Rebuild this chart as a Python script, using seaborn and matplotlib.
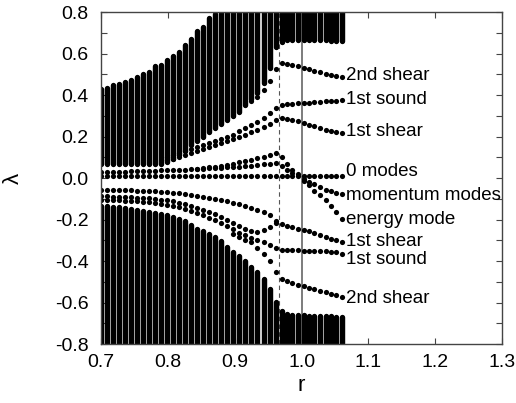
import numpy as np
import pandas as pd
import matplotlib
matplotlib.use("Agg")
import matplotlib.pyplot as plt
from matplotlib.ticker import MultipleLocator
import seaborn as sns

# ---------------------------------------------------------------------
# data (r = parameter, lambda = eigenvalue)
# ---------------------------------------------------------------------
R_LEFT = [0.700, 0.709, 0.718, 0.727, 0.736, 0.745, 0.754, 0.763, 0.772, 0.781,
          0.790, 0.799, 0.808, 0.817, 0.826, 0.835, 0.844, 0.853, 0.862, 0.871,
          0.880, 0.889, 0.898, 0.907, 0.916, 0.925, 0.934, 0.943, 0.952, 0.961]
R_RIGHT = [0.970, 0.978, 0.986, 0.994, 1.003, 1.011, 1.019, 1.027, 1.036, 1.044,
           1.052, 1.060]

# continuum bands (edges per column)
UPPER_TOP_L = [0.43, 0.435, 0.45, 0.455, 0.465, 0.475, 0.485, 0.50, 0.51, 0.54,
               0.545, 0.57, 0.59, 0.61, 0.64, 0.67, 0.71, 0.73, 0.77, 0.79,
               0.82, 0.82, 0.82, 0.82, 0.82, 0.82, 0.82, 0.82, 0.82, 0.82]
UPPER_BOT_L = [0.07, 0.07, 0.07, 0.07, 0.07, 0.07, 0.07, 0.07, 0.07, 0.07,
               0.07, 0.08, 0.09, 0.11, 0.13, 0.16, 0.18, 0.20, 0.22, 0.24,
               0.26, 0.28, 0.30, 0.32, 0.35, 0.38, 0.41, 0.46, 0.53, 0.63]
UPPER_TOP_R = [0.82] * 12
UPPER_BOT_R = [0.655, 0.665, 0.665, 0.665, 0.665, 0.665, 0.665, 0.665, 0.665, 0.66,
               0.66, 0.66]

LOWER_TOP_L = [-0.135, -0.135, -0.137, -0.14, -0.145, -0.15, -0.155, -0.16, -0.165, -0.17,
               -0.175, -0.18, -0.185, -0.195, -0.205, -0.225, -0.245, -0.255, -0.27, -0.285,
               -0.305, -0.33, -0.355, -0.375, -0.40, -0.43, -0.45, -0.485, -0.535, -0.595]
LOWER_TOP_R = [-0.64, -0.655, -0.66, -0.66, -0.66, -0.662, -0.662, -0.665, -0.665, -0.665,
               -0.668, -0.668]
BAND_FLOOR = -0.82

# discrete modes, upper half
ZERO_ROW = [0.01] * 42
ZERO_B_L = [0.028, 0.028, 0.029, 0.03, 0.031, 0.032, 0.033, 0.034, 0.035, 0.036,
            0.037, 0.038, 0.039, 0.04, 0.041, 0.042, 0.044, 0.045, 0.047, 0.048,
            0.05, 0.052, 0.054, 0.056, 0.058, 0.06, 0.063, 0.066, 0.07, 0.072]
ZERO_B_R = [0.06, 0.04, 0.025]
ZERO_C_L = [0.045, 0.048, 0.052, 0.056, 0.06, 0.065, 0.07, 0.076, 0.082, 0.088,
            0.095, 0.103, 0.11, 0.12]          # columns 16..29
ZERO_C_R = [0.10, 0.07, 0.04, 0.02]

SOUND1_POS_L = [0.10, 0.11, 0.12, 0.13, 0.14, 0.15, 0.16, 0.17, 0.18, 0.19,
                0.20, 0.21, 0.225, 0.24, 0.255, 0.27, 0.29, 0.312, 0.336]   # columns 11..29
SHEAR1_POS_L = [0.085, 0.09, 0.10, 0.11, 0.12, 0.13, 0.14, 0.15, 0.16, 0.17,
                0.18, 0.19, 0.20, 0.21, 0.22, 0.23, 0.245, 0.26, 0.28]
SHEAR2_POS_L = [0.37, 0.39, 0.425, 0.468, 0.526]                            # columns 25..29

SHEAR2_POS_R = [0.553, 0.548, 0.543, 0.538, 0.532, 0.525, 0.518, 0.51, 0.503, 0.497,
                0.49, 0.485]
SOUND1_POS_R = [0.352, 0.356, 0.358, 0.36, 0.362, 0.364, 0.366, 0.368, 0.37, 0.372,
                0.374, 0.376]
SHEAR1_POS_R = [0.29, 0.285, 0.28, 0.275, 0.268, 0.258, 0.25, 0.24, 0.233, 0.227,
                0.222, 0.218]

# discrete modes, lower half
N1_L = [-0.055, -0.055, -0.056, -0.057, -0.058, -0.059, -0.06, -0.061, -0.062, -0.064,
        -0.066, -0.068, -0.071, -0.074, -0.078, -0.082, -0.086, -0.09, -0.095, -0.10,
        -0.105, -0.11, -0.118, -0.126, -0.134, -0.143, -0.153, -0.165, -0.18, -0.205]
N2_L = [-0.088, -0.088, -0.089, -0.09, -0.091, -0.092, -0.094, -0.096, -0.098, -0.10,
        -0.103, -0.107, -0.112, -0.118, -0.125, -0.133, -0.142, -0.152, -0.163, -0.175,
        -0.188, -0.20, -0.215, -0.23, -0.245, -0.255, -0.258, -0.25, -0.235, -0.215]
N3_L = [-0.105, -0.105, -0.106, -0.107, -0.108, -0.11, -0.112, -0.114, -0.117, -0.12,
        -0.124, -0.128, -0.133, -0.14, -0.148, -0.157, -0.167, -0.178, -0.19, -0.203,
        -0.217, -0.232, -0.247, -0.262, -0.275, -0.287, -0.297, -0.307, -0.32, -0.337]
N4_L = [-0.27, -0.285, -0.297, -0.31, -0.335, -0.365, -0.40, -0.453]         # columns 22..29

SHEAR1_NEG_R = [-0.222, -0.23, -0.237, -0.243, -0.248, -0.255, -0.263, -0.272, -0.282, -0.292,
                -0.30, -0.308]
SOUND1_NEG_R = [-0.345, -0.347, -0.348, -0.348, -0.349, -0.35, -0.35, -0.351, -0.352, -0.355,
                -0.358, -0.364]
SHEAR2_NEG_R = [-0.486, -0.497, -0.506, -0.513, -0.519, -0.527, -0.535, -0.543, -0.551, -0.558,
                -0.565, -0.573]

R_MODES = [1.003, 1.011, 1.019, 1.027, 1.036, 1.044, 1.052, 1.060]
MOMENTUM = [-0.005, -0.018, -0.03, -0.043, -0.055, -0.064, -0.07, -0.075]
ENERGY = [-0.012, -0.032, -0.06, -0.08, -0.105, -0.135, -0.165, -0.198]

LABELS = ["2nd shear", "1st sound", "1st shear", "0 modes", "momentum modes",
          "energy mode", "1st shear", "1st sound", "2nd shear"]
LABEL_Y = [0.495, 0.379, 0.225, 0.031, -0.085, -0.20, -0.307, -0.394, -0.578]

R_DASHED = 0.966
R_SOLID = 1.0


def band_frame():
    rows = []
    cols = R_LEFT + R_RIGHT
    tops = UPPER_TOP_L + UPPER_TOP_R
    bots = UPPER_BOT_L + UPPER_BOT_R
    ltops = LOWER_TOP_L + LOWER_TOP_R
    for i, r in enumerate(cols):
        rows += [(r, bots[i], f"u{i}"), (r, tops[i], f"u{i}"),
                 (r, ltops[i], f"l{i}"), (r, BAND_FLOOR, f"l{i}")]
    return pd.DataFrame(rows, columns=["r", "lam", "col"])


def mode_frame():
    rr = R_LEFT + R_RIGHT
    pieces = [
        (rr, ZERO_ROW),
        (R_LEFT + R_RIGHT[:3], ZERO_B_L + ZERO_B_R),
        (R_LEFT[16:] + R_RIGHT[:4], ZERO_C_L + ZERO_C_R),
        (R_LEFT[11:] + R_RIGHT, SOUND1_POS_L + SOUND1_POS_R),
        (R_LEFT[11:] + R_RIGHT, SHEAR1_POS_L + SHEAR1_POS_R),
        (R_LEFT[25:] + R_RIGHT, SHEAR2_POS_L + SHEAR2_POS_R),
        (R_LEFT + R_RIGHT, N1_L + SHEAR1_NEG_R),
        (R_LEFT, N2_L),
        (R_LEFT + R_RIGHT, N3_L + SOUND1_NEG_R),
        (R_LEFT[22:] + R_RIGHT, N4_L + SHEAR2_NEG_R),
        (R_MODES, MOMENTUM),
        (R_MODES, ENERGY),
    ]
    frames = [pd.DataFrame({"r": r, "lam": lam}) for r, lam in pieces]
    return pd.concat(frames, ignore_index=True)


sns.set_theme(style="ticks")
plt.rcParams["font.family"] = ["Liberation Sans", "DejaVu Sans"]
plt.rcParams["text.color"] = "black"
plt.rcParams["axes.labelcolor"] = "black"
plt.rcParams["xtick.labelcolor"] = "black"
plt.rcParams["ytick.labelcolor"] = "black"

fig = plt.figure(figsize=(5.16, 4.03), dpi=100)
ax = fig.add_axes([0.196, 0.146, 0.777, 0.824])

# continuum: thick vertical strokes, one per r column
sns.lineplot(data=band_frame(), x="r", y="lam", units="col", estimator=None,
             sort=False, color="black", lw=3.9, solid_capstyle="round",
             legend=False, ax=ax)

# discrete eigenvalues
sns.scatterplot(data=mode_frame(), x="r", y="lam", color="black", s=14,
                linewidth=0, legend=False, ax=ax)

ax.axvline(R_DASHED, color="#555555", lw=0.8, ls=(0, (4, 3)), zorder=0.5)
ax.axvline(R_SOLID, color="#666666", lw=1.2, zorder=0.5)

for txt, y in zip(LABELS, LABEL_Y):
    ax.text(1.066, y, txt, fontsize=13.5, va="center", ha="left")

ax.set_xlim(0.7, 1.3)
ax.set_ylim(-0.8, 0.8)
ax.xaxis.set_major_locator(MultipleLocator(0.1))
ax.yaxis.set_major_locator(MultipleLocator(0.2))
ax.yaxis.set_minor_locator(MultipleLocator(0.1))
ax.set_xticklabels([f"{v:.1f}" for v in ax.get_xticks()])
ax.set_yticklabels([f"{v:.1f}" for v in ax.get_yticks()])
ax.tick_params(which="both", direction="in", top=True, right=True,
               length=4, width=0.8, color="#444444", labelsize=14)
ax.tick_params(axis="y", pad=9)
ax.tick_params(axis="x", pad=7)
for sp in ax.spines.values():
    sp.set_color("#444444")
    sp.set_linewidth(1.0)

ax.set_xlabel("r", fontsize=16, labelpad=3)
ax.set_ylabel("λ", fontsize=16, labelpad=22)

fig.savefig("out.png", dpi=100)
